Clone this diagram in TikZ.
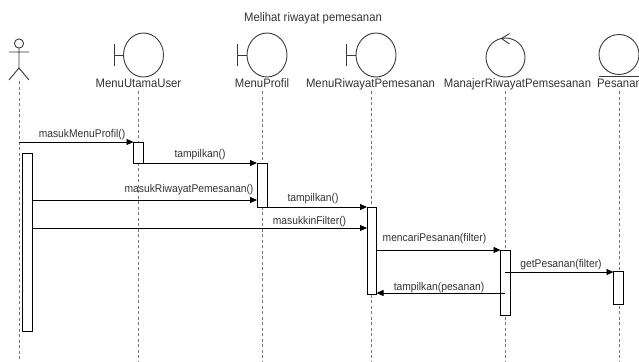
\documentclass[tikz,border=0pt]{standalone}
\usepackage{fontspec}
\setmainfont{Liberation Sans}
\newfontfamily\lab{Liberation Sans}[FakeStretch=0.92]
\usetikzlibrary{arrows.meta}
\definecolor{txt}{HTML}{333333}
\definecolor{shp}{HTML}{3A3A3A}
\definecolor{lifec}{HTML}{777777}
\tikzset{
  outl/.style={draw=shp, line width=0.9pt},
  lifeline/.style={draw=lifec, line width=0.9pt, dash pattern=on 3pt off 2.5pt},
  actbox/.style={draw=black, fill=white, line width=0.9pt},
  msg/.style={draw=black, line width=0.8pt, -{Triangle[length=7pt,width=6pt]}},
  objlbl/.style={font=\lab\fontsize{12.3}{14}\selectfont, text=txt, anchor=base, inner sep=0pt},
  msglbl/.style={font=\lab\fontsize{11.2}{13}\selectfont, text=txt, anchor=base, inner sep=0pt},
}
\begin{document}
\begin{tikzpicture}[x=1pt, y=-1pt]
\useasboundingbox (0,0) rectangle (639,361);

% title
\node[objlbl] (title) at (313,22) {Melihat riwayat pemesanan};

% actor
\draw[outl] (19,43.5) circle (4.6);
\draw[outl] (19,48) -- (19,68) (9,52) -- (29,52) (9,80) -- (19,68) -- (29,80);

% boundaries
\foreach \L in {138.5, 262, 371}{
  \draw[outl] (\L+5,55) ellipse (20 and 22);
  \draw[outl] (\L-24.5,44) -- (\L-24.5,66) (\L-24.5,55) -- (\L-15,55);
}
% control
\draw[outl] (505.5,57.5) circle (19.5);
\draw[outl] (509.5,33.5) -- (501.5,38.5) -- (509.5,44);
% entity
\draw[outl] (619,54.5) circle (20);
\draw[outl] (599,76) -- (639,76);

% object labels
\node[objlbl] (lu) at (138.5,87.5) {MenuUtamaUser};
\node[objlbl] (lp) at (262,87.5) {MenuProfil};
\node[objlbl] (lr) at (370.5,87.5) {MenuRiwayatPemesanan};
\node[objlbl] (lm) at (517.5,87.5) {ManajerRiwayatPemsesanan};
\node[objlbl] (le) at (619.5,87.5) {Pesanan};

% lifelines
\coordinate (t0) at (19,81);   \coordinate (e0) at (19,361);
\coordinate (t1) at (138.5,91); \coordinate (e1) at (138.5,361);
\coordinate (t2) at (262,91);  \coordinate (e2) at (262,361);
\coordinate (t3) at (371.5,91);  \coordinate (e3) at (371.5,361);
\coordinate (t4) at (505.5,91); \coordinate (e4) at (505.5,361);
\coordinate (t5) at (619,91);  \coordinate (e5) at (619,361);
\foreach \i in {0,...,5}{ \draw[lifeline] (t\i) -- (e\i); }

% activation boxes
\draw[actbox] (22,153) rectangle (32,331);
\draw[actbox] (133.5,142) rectangle (143.5,163);
\draw[actbox] (257,163) rectangle (267,207);
\draw[actbox] (367,207) rectangle (376.5,294);
\draw[actbox] (500.5,250) rectangle (510.5,315);
\draw[actbox] (613.5,271.5) rectangle (623.5,304);

% message endpoints
\coordinate (m1s) at (19,142);   \coordinate (m1e) at (133.5,142);
\coordinate (m2s) at (143.5,163); \coordinate (m2e) at (257,163);
\coordinate (m3s) at (32,200);   \coordinate (m3e) at (257,200);
\coordinate (m4s) at (267,207);  \coordinate (m4e) at (367,207);
\coordinate (m5s) at (32,228);   \coordinate (m5e) at (367,228);
\coordinate (m6s) at (376.5,250); \coordinate (m6e) at (500.5,250);
\coordinate (m7s) at (505,272);  \coordinate (m7e) at (613.5,272);
\coordinate (m8s) at (505,293);  \coordinate (m8e) at (376.5,293);

\draw[msg] (m1s) -- (m1e);
\draw[msg] (m2s) -- (m2e);
\draw[msg] (m3s) -- (m3e);
\draw[msg] (m4s) -- (m4e);
\draw[msg] (m5s) -- (m5e);
\draw[msg] (m6s) -- (m6e);
\draw[msg] (m7s) -- (m7e);
\draw[msg] (m8s) -- (m8e);

% message labels
\node[msglbl] (l1) at (82,137) {masukMenuProfil()};
\node[msglbl] (l2) at (200,157.5) {tampilkan()};
\node[msglbl] (l3) at (189,192) {masukRiwayatPemesanan()};
\node[msglbl] (l4) at (313,201) {tampilkan()};
\node[msglbl] (l5) at (309.5,224) {masukkinFilter()};
\node[msglbl] (l6) at (434.5,241.5) {mencariPesanan(filter)};
\node[msglbl] (l7) at (561,267) {getPesanan(filter)};
\node[msglbl] (l8) at (439,290) {tampilkan(pesanan)};
\end{tikzpicture}
\end{document}
